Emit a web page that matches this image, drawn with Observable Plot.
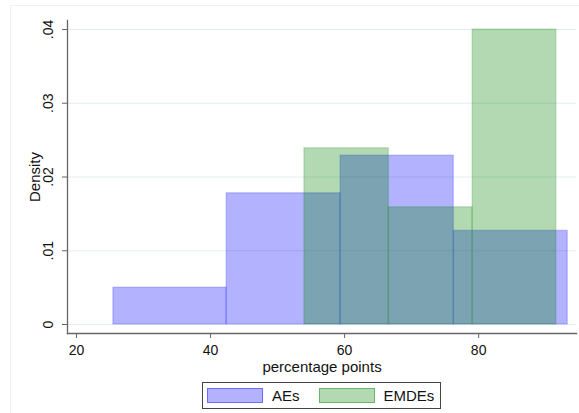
<!DOCTYPE html>
<html><head><meta charset="utf-8">
<script src="https://cdn.jsdelivr.net/npm/d3@7"></script>
<script src="https://cdn.jsdelivr.net/npm/@observablehq/plot@0.6"></script>
<style>
html,body{margin:0;padding:0;background:#fff;}
#wrap{position:relative;width:579px;height:413px;overflow:hidden;font-family:"Liberation Sans",Arial,sans-serif;color:#111;}
#frame{position:absolute;left:10px;top:5px;width:570px;height:420px;border:1px solid #f0f2f2;}
#chart{position:absolute;left:0;top:0;}
#legend{position:absolute;left:202px;top:382px;width:237px;height:25px;border:1px solid #444;display:flex;align-items:center;font-size:15px;background:#fff;}
.sw{box-sizing:border-box;width:56px;height:15px;}
</style></head>
<body>
<div id="wrap">
  <div id="frame"></div>
  <div id="chart"></div>
  <div id="legend"></div>
</div>
<script>
// AEs histogram: bin edges and density per bin
const aeEdges = [25.5, 42.4, 59.4, 76.3, 93.3];
const aeDensity = [0.0050, 0.0178, 0.0229, 0.0127];
// EMDEs histogram
const emdeEdges = [54.0, 66.6, 79.1, 91.6];
const emdeDensity = [0.0239, 0.0159, 0.0400];

const yTicks = [0, 0.01, 0.02, 0.03, 0.04];
const yTickLabels = ["0", ".01", ".02", ".03", ".04"];
const xTicks = [20, 40, 60, 80];
const seriesNames = ["AEs", "EMDEs"];
const seriesColors = ["blue", "green"];

const toBins = (edges, dens, s) => dens.map((d, i) => ({x1: edges[i], x2: edges[i + 1], d, s}));
const aeBins = toBins(aeEdges, aeDensity, seriesNames[0]);
const emdeBins = toBins(emdeEdges, emdeDensity, seriesNames[1]);

const font = '"Liberation Sans", Arial, sans-serif';
const axisColor = "#666";

const chart = Plot.plot({
  width: 579, height: 376,
  marginLeft: 67, marginRight: 3, marginTop: 20, marginBottom: 43,
  x: {domain: [18.66, 94.6]},
  y: {domain: [-0.00122, 0.04122]},
  style: {fontFamily: font, fontSize: "14px", color: "#111", background: "transparent", overflow: "visible"},
  marks: [
    Plot.gridY(yTicks, {stroke: "#e3eeef", strokeOpacity: 1, strokeWidth: 1}),
    Plot.rect(aeBins, {x1: "x1", x2: "x2", y1: 0, y2: "d", fill: seriesColors[0], fillOpacity: 0.3, stroke: seriesColors[0], strokeOpacity: 0.16, strokeWidth: 1.5}),
    Plot.rect(emdeBins, {x1: "x1", x2: "x2", y1: 0, y2: "d", fill: seriesColors[1], fillOpacity: 0.3, stroke: seriesColors[1], strokeOpacity: 0.16, strokeWidth: 1.5}),
    Plot.frame({anchor: "left", stroke: axisColor, strokeWidth: 1.3}),
    Plot.frame({anchor: "bottom", stroke: axisColor, strokeWidth: 1.3}),
    Plot.axisY({ticks: yTicks, tickSize: 5, tickFormat: () => "", label: null, stroke: axisColor}),
    Plot.text(yTicks, {y: d => d, text: (d, i) => yTickLabels[i], frameAnchor: "left", dx: -19, rotate: -90, textAnchor: "middle", lineAnchor: "middle", fontSize: 14, fill: "#111"}),
    Plot.text(["Density"], {frameAnchor: "left", dx: -32, rotate: -90, textAnchor: "middle", lineAnchor: "middle", fontSize: 15, fill: "#111"}),
    Plot.axisX({ticks: xTicks, tickSize: 5, tickPadding: 7, label: null, fontSize: 14, stroke: axisColor, fill: "#111"}),
    Plot.text(["percentage points"], {frameAnchor: "bottom", dy: 34, lineAnchor: "middle", fontSize: 15, fill: "#111"})
  ]
});
document.getElementById("chart").appendChild(chart);

const legend = document.getElementById("legend");
const gaps = [[4, 9], [19, 9]];
seriesNames.forEach((name, i) => {
  const sw = document.createElement("div");
  sw.className = "sw";
  const c = d3.color(seriesColors[i]);
  sw.style.marginLeft = gaps[i][0] + "px";
  sw.style.marginRight = gaps[i][1] + "px";
  sw.style.background = `rgba(${c.r},${c.g},${c.b},0.3)`;
  sw.style.border = `1.5px solid rgba(${c.r},${c.g},${c.b},0.4)`;
  const t = document.createElement("span");
  t.textContent = name;
  legend.appendChild(sw);
  legend.appendChild(t);
});
</script>
</body></html>
